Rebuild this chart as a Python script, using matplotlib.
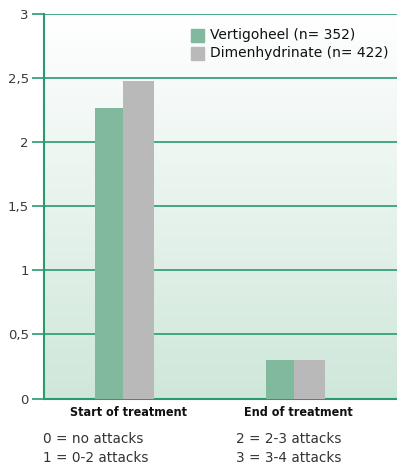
import matplotlib
matplotlib.use("Agg")
import matplotlib.pyplot as plt
import numpy as np
from matplotlib.colors import LinearSegmentedColormap

categories = ["Start of treatment", "End of treatment"]
series_names = ["Vertigoheel (n= 352)", "Dimenhydrinate (n= 422)"]
vertigoheel = [2.27, 0.30]
dimenhydrinate = [2.48, 0.30]
yticks = [0, 0.5, 1, 1.5, 2, 2.5, 3]
ytick_labels = ["0", "0,5", "1", "1,5", "2", "2,5", "3"]
notes_left = ["0 = no attacks", "1 = 0-2 attacks"]
notes_right = ["2 = 2-3 attacks", "3 = 3-4 attacks"]

green = "#80b99d"
grey = "#b9b9b9"
line_green = "#2a9a70"
text_col = "#333333"

W, H = 397, 468
fig = plt.figure(figsize=(W / 100, H / 100), dpi=100)
ax = fig.add_axes([44 / W, (H - 398.5) / H, 1 - 44 / W, (398.5 - 14) / H])

# background gradient, white at top to pale green at bottom
cmap = LinearSegmentedColormap.from_list("bg", ["#cfe7da", "#ffffff"])
grad = np.linspace(0, 1, 256).reshape(-1, 1)
ax.imshow(grad, cmap=cmap, aspect="auto", origin="lower",
          extent=[0, 1, 0, 1], transform=ax.transAxes, zorder=0)

ax.set_xlim(0, 353)
ax.set_ylim(0, 3)
x = np.array([51, 222])
ax.bar(x, vertigoheel, width=28, align="edge", color=green, zorder=3)
ax.bar(x + 28, dimenhydrinate, width=31, align="edge", color=grey, zorder=3)

for v in yticks[1:]:
    ax.axhline(v, color=line_green, lw=1.2, zorder=2)

ax.set_yticks(yticks)
ax.set_yticklabels(ytick_labels)
ax.set_xticks([])
ax.tick_params(axis="y", length=9, width=1.2, color=line_green,
               labelsize=9.5, labelcolor="#3a3a3a", pad=2)
for s in ["top", "right"]:
    ax.spines[s].set_visible(False)
for s in ["left", "bottom"]:
    ax.spines[s].set_color(line_green)
    ax.spines[s].set_linewidth(1.5)

# legend
lx, ly = 191, 35
for i, name in enumerate(series_names):
    yy = ly + i * 18
    fig.patches.append(plt.Rectangle((lx / W, 1 - (yy + 7) / H), 13 / W, 13 / H,
                                     transform=fig.transFigure,
                                     color=[green, grey][i], zorder=5))
    fig.text(210 / W, 1 - yy / H, name, fontsize=10, color="#111111",
             va="center", ha="left")

# category labels
for xc, lab in zip([128, 298], categories):
    fig.text(xc / W, 1 - 412 / H, lab, fontsize=9, fontweight="bold",
             family="DejaVu Sans", fontstretch="condensed",
             ha="center", va="center", color="#111111")

for i, t in enumerate(notes_left):
    fig.text(43 / W, 1 - (439 + i * 19) / H, t, fontsize=9.8, color=text_col,
             ha="left", va="center")
for i, t in enumerate(notes_right):
    fig.text(236 / W, 1 - (439 + i * 19) / H, t, fontsize=9.8, color=text_col,
             ha="left", va="center")

fig.savefig("out.png", dpi=100)
